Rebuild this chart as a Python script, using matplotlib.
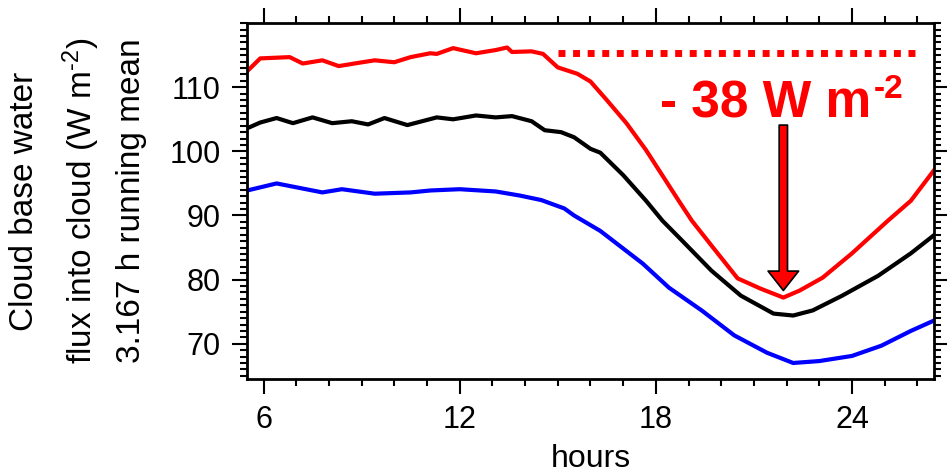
import numpy as np
import matplotlib
matplotlib.use('Agg')
from matplotlib import pyplot as plt
from matplotlib.patches import FancyArrowPatch
from matplotlib.ticker import MultipleLocator

plt.rcParams['font.family'] = ['Liberation Sans', 'DejaVu Sans']
plt.rcParams['mathtext.fontset'] = 'custom'
plt.rcParams['mathtext.rm'] = 'Liberation Sans'
plt.rcParams['mathtext.default'] = 'regular'

# values
red_hours = [5.5, 5.9, 6.8, 7.2, 7.8, 8.3, 8.9, 9.4, 10.0, 10.5, 11.1, 11.3, 11.8,
             12.5, 13.1, 13.45, 13.6, 14.2, 14.55, 15.0, 15.6, 16.0, 16.5, 17.1,
             17.7, 18.7, 19.1, 19.75, 20.5, 21.2, 21.9, 22.4, 23.1, 24.0, 25.1,
             25.8, 26.5]
red_flux = [112.5, 114.5, 114.7, 113.7, 114.2, 113.3, 113.8, 114.2, 113.9, 114.7,
            115.3, 115.2, 116.1, 115.3, 115.8, 116.2, 115.5, 115.6, 115.2, 113.1,
            112.1, 110.9, 108.0, 104.4, 100.2, 92.3, 89.2, 85.0, 80.2, 78.6, 77.2,
            78.3, 80.3, 84.1, 89.2, 92.3, 97.0]

black_hours = [5.5, 5.9, 6.4, 6.9, 7.5, 8.1, 8.7, 9.2, 9.7, 10.4, 11.3, 11.8, 12.5,
               13.1, 13.6, 14.2, 14.6, 15.1, 15.5, 16.0, 16.3, 17.0, 17.7, 18.2,
               18.8, 19.7, 20.6, 21.6, 22.2, 22.8, 23.7, 24.8, 25.8, 26.5]
black_flux = [103.6, 104.5, 105.2, 104.4, 105.3, 104.4, 104.7, 104.2, 105.2, 104.1,
              105.3, 105.0, 105.6, 105.3, 105.5, 104.7, 103.3, 103.0, 102.2, 100.4,
              99.8, 96.3, 92.3, 89.2, 86.1, 81.4, 77.5, 74.7, 74.4, 75.2, 77.5,
              80.6, 84.1, 86.9]

blue_hours = [5.5, 6.4, 7.0, 7.8, 8.4, 9.4, 10.5, 11.1, 12.0, 13.1, 13.85, 14.5,
              15.2, 15.5, 16.3, 17.6, 18.4, 19.4, 20.4, 21.4, 22.2, 23.0, 24.0,
              24.9, 25.8, 26.5]
blue_flux = [93.9, 95.0, 94.4, 93.6, 94.1, 93.4, 93.6, 93.9, 94.1, 93.75, 93.1, 92.4,
             91.1, 90.0, 87.6, 82.5, 78.75, 75.2, 71.3, 68.6, 67.0, 67.3, 68.1,
             69.7, 72.0, 73.6]

ref_level = 115.3       # dotted reference line
ref_start, ref_end = 15.0, 26.0
min_level = 78.3        # arrow tip
arrow_top = 104.1
arrow_hour = 21.9

fig = plt.figure(figsize=(9.47, 4.72), dpi=100)
ax = fig.add_axes([0.261, 0.197, 0.725, 0.754])

ax.plot(red_hours, red_flux, color='#ff0000', lw=3)
ax.plot(black_hours, black_flux, color='black', lw=3)
ax.plot(blue_hours, blue_flux, color='#0000ff', lw=3)

ax.plot([ref_start, ref_end], [ref_level, ref_level], color='#ff0000', lw=5,
        linestyle=(0, (1, 1.1)), solid_capstyle='butt', dash_capstyle='butt')

# "- 38 W m-2" label, superscript as its own text so the hyphen stays short
main = ax.text(18.13, 105.3, '- 38 W m', color='#ff0000', fontsize=37,
               fontweight='bold', ha='left', va='baseline')
ax.annotate('-2', xy=(1, 1), xycoords=main, xytext=(2, 4),
            textcoords='offset points', color='#ff0000', fontsize=24,
            fontweight='bold', ha='left', va='top')

arr = FancyArrowPatch((arrow_hour, arrow_top), (arrow_hour, min_level),
                      arrowstyle='simple,head_length=14,head_width=22,tail_width=6',
                      mutation_scale=1, facecolor='#ff0000', edgecolor='black',
                      lw=1.2, shrinkA=0, shrinkB=0)
ax.add_patch(arr)

ax.set_xlim(5.5, 26.5)
ax.set_ylim(64.5, 120)
ax.xaxis.set_major_locator(MultipleLocator(6))
ax.xaxis.set_minor_locator(MultipleLocator(1))
ax.yaxis.set_minor_locator(MultipleLocator(1))
ax.set_yticks([70, 80, 90, 100, 110])

ax.tick_params(which='both', direction='out', top=True, right=True, width=1.5,
               labelsize=22)
ax.tick_params(which='major', length=11, pad=8)
ax.tick_params(which='minor', length=5)
for s in ax.spines.values():
    s.set_linewidth(2)

ax.set_xlabel('hours', fontsize=23, labelpad=6)

fig.text(0.026, 0.574, 'Cloud base water', rotation=90, fontsize=24,
         ha='center', va='center')
fig.text(0.086, 0.574, r'flux into cloud (W m$^{\text{-2}}$)', rotation=90,
         fontsize=24, ha='center', va='center')
fig.text(0.139, 0.574, '3.167 h running mean', rotation=90, fontsize=24,
         ha='center', va='center')

fig.savefig('out.png', dpi=100)
